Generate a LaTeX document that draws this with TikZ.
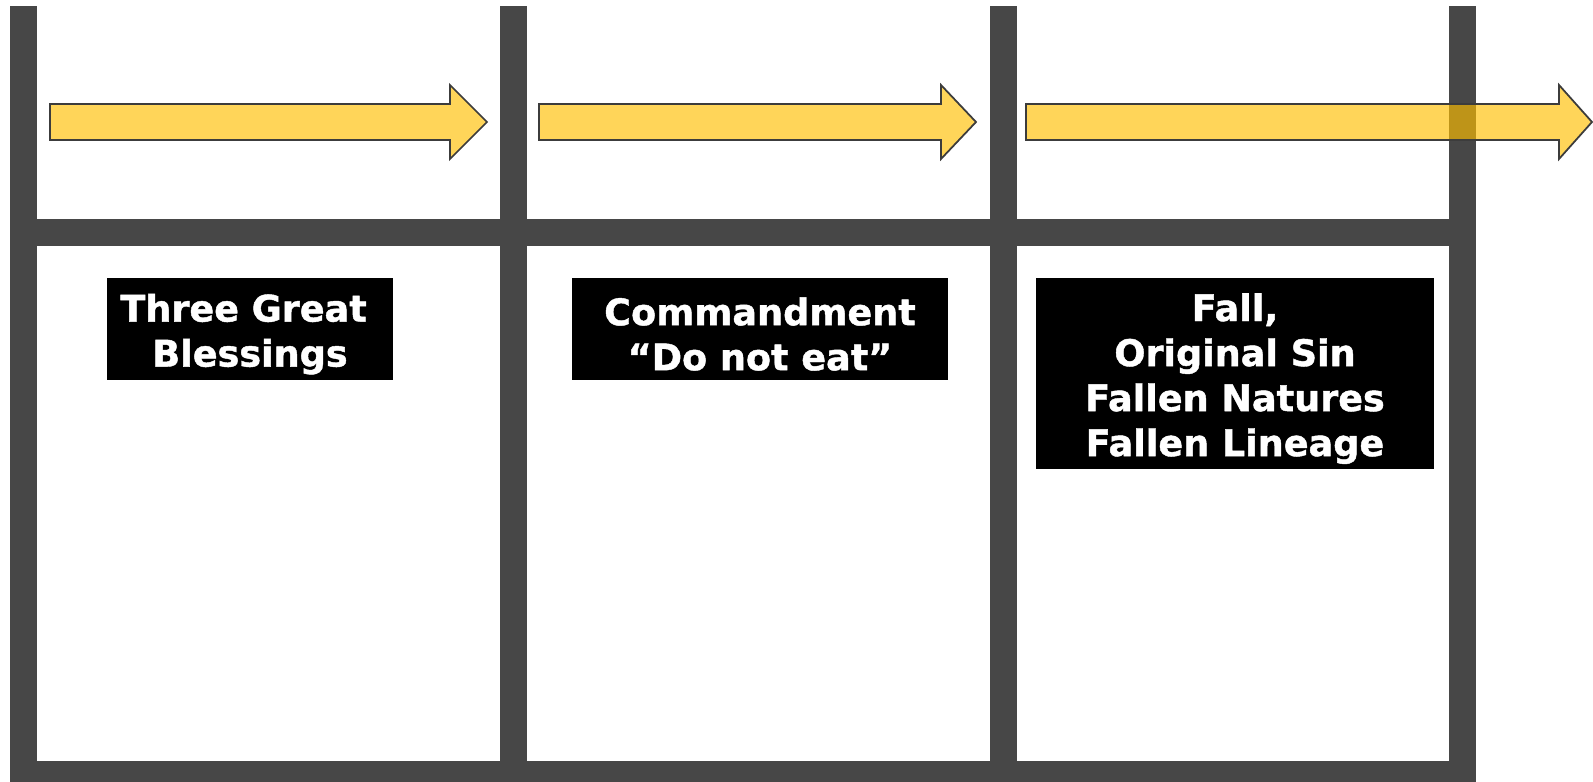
\documentclass[tikz,border=0pt]{standalone}
\usepackage{fontspec}
\setmainfont{DejaVu Sans}[BoldFeatures={FakeBold=1.2}]

\definecolor{bargray}{HTML}{474747}
\definecolor{arrowgold}{RGB}{255,190,0}
\definecolor{arrowedge}{HTML}{3C3C3C}

\newcommand{\firstline}{\rule{0pt}{10.8pt}}

\tikzset{
  bar/.style={fill=bargray, draw=none},
  stagearrow/.style={fill=arrowgold, fill opacity=0.65, draw=arrowedge, line width=0.5pt, line join=miter},
  stagelabel/.style={fill=black, text=white, inner sep=0pt, align=center,
                     font=\bfseries\fontsize{10.4}{12.8}\selectfont}
}

\begin{document}
\begin{tikzpicture}[x=0.01cm, y=-0.01cm]
  \useasboundingbox (0,0) rectangle (1593,782);

  % frame of the three stages
  \foreach \xl in {10, 500, 990, 1449}
    \fill[bar] (\xl,6) rectangle ++(27,776);
  \fill[bar] (10,219) rectangle (1476,246);
  \fill[bar] (10,761) rectangle (1476,782);

  % arrows along the top
  \foreach \xa/\xb/\xc in {50/450/487, 539/941/976, 1026/1559/1592}
    \draw[stagearrow] (\xa,104) -- (\xb,104) -- (\xb,85) -- (\xc,122)
      -- (\xb,159) -- (\xb,140) -- (\xa,140) -- cycle;

  % labels
  \node[stagelabel, minimum width=2.85cm, minimum height=1.02cm] (blessings)
    at (250,329) {\firstline Three Great\rule{.35em}{0pt}\\Blessings};
  \node[stagelabel, minimum width=3.76cm, minimum height=1.02cm] (commandment)
    at (760,329) {\firstline Commandment\\``Do not eat''};
  \node[stagelabel, minimum width=3.98cm, minimum height=1.91cm] (fall)
    at (1235,373.5) {\firstline Fall,\\Original Sin\\Fallen Natures\\Fallen Lineage};
\end{tikzpicture}
\end{document}
